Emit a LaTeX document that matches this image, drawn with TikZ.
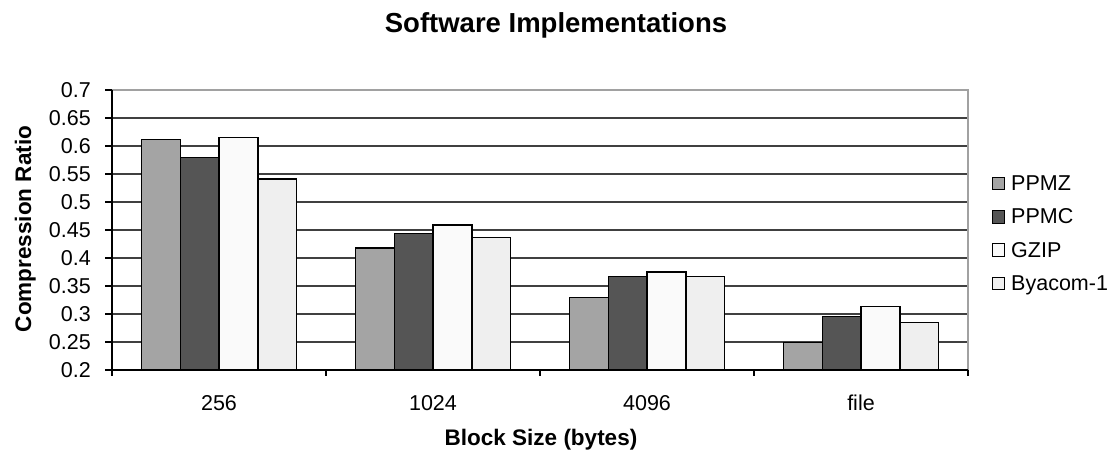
\documentclass[tikz,border=0pt]{standalone}
\usepackage{fontspec}
\setmainfont{Liberation Sans}
\begin{document}
\begin{tikzpicture}[x=1pt,y=-1pt,
  ticklabel/.style={inner sep=0pt,font=\fontsize{21.5}{25}\selectfont},
  axistitle/.style={inner sep=0pt,font=\fontsize{22.5}{27}\selectfont\bfseries},
  charttitle/.style={inner sep=0pt,font=\fontsize{27.5}{32}\selectfont\bfseries},
  grid/.style={draw=black!75,line width=1.4pt},
  frame/.style={draw=black!37,line width=1.4pt},
  axisline/.style={draw=black,line width=1.2pt},
  bar/.style={draw=black,line width=1.2pt},
  swatch/.style={draw=black,line width=1pt,minimum width=12.5pt,minimum height=12.5pt,inner sep=0pt},
]
\definecolor{cppmz}{HTML}{A4A4A4}
\definecolor{cppmc}{HTML}{555555}
\definecolor{cgzip}{HTML}{FAFAFA}
\definecolor{cbyacom}{HTML}{EFEFEF}
\useasboundingbox[fill=white] (0,0) rectangle (1117,455);

% plot area: x from 112 to 968, value 0.2 at y=370 and 0.7 at y=90
\pgfmathsetmacro{\xl}{112}
\pgfmathsetmacro{\xr}{968}

% horizontal gridlines
\foreach \k in {1,...,9}{
  \draw[grid] (\xl,{370-28*\k}) -- (\xr,{370-28*\k});
}
% plot area frame (top and right)
\draw[frame] (\xl,90) -- (\xr,90) -- (\xr,370);

% bars: four categories, four series
\foreach \c/\va/\vb/\vc/\vd in {0/0.612/0.579/0.615/0.541, 1/0.418/0.444/0.459/0.436,
                                2/0.329/0.367/0.375/0.367, 3/0.249/0.296/0.313/0.285}{
  \pgfmathsetmacro{\gx}{\xl+214*\c+29.2}
  \path[bar,fill=cppmz]   (\gx,370) rectangle ({\gx+38.9},{370-(\va-0.2)*560});
  \path[bar,fill=cppmc]   ({\gx+38.9},370) rectangle ({\gx+77.8},{370-(\vb-0.2)*560});
  \path[bar,fill=cgzip]   ({\gx+77.8},370) rectangle ({\gx+116.7},{370-(\vc-0.2)*560});
  \path[bar,fill=cbyacom] ({\gx+116.7},370) rectangle ({\gx+155.6},{370-(\vd-0.2)*560});
}

% axes and ticks
\draw[axisline] (\xl,90) -- (\xl,370) -- (\xr,370);
\foreach \k in {0,...,10}{
  \draw[axisline] (105,{370-28*\k}) -- (\xl,{370-28*\k});
}
\foreach \c in {0,...,4}{
  \draw[axisline] ({\xl+214*\c},370) -- ({\xl+214*\c},376);
}

% value labels
\foreach \k/\t in {0/0.2,1/0.25,2/0.3,3/0.35,4/0.4,5/0.45,6/0.5,7/0.55,8/0.6,9/0.65,10/0.7}{
  \node[ticklabel,anchor=east] (yl\k) at (91,{370-28*\k}) {\t};
}
% category labels
\foreach \c/\t in {0/256,1/1024,2/4096,3/file}{
  \node[ticklabel,anchor=base] (xl\c) at ({\xl+107+214*\c},410) {\t};
}

% titles
\node[charttitle,anchor=base] (title) at (556,32) {Software Implementations};
\node[axistitle,anchor=base] (xtitle) at (541,445) {Block Size (bytes)};
\node[axistitle,anchor=base,rotate=90] (ytitle) at (31,229) {Compression Ratio};

% legend
\foreach \i/\col/\t in {0/cppmz/PPMZ,1/cppmc/PPMC,2/cgzip/GZIP,3/cbyacom/Byacom-1}{
  \node[swatch,fill=\col] (sw\i) at (998.5,{183.5+33.3*\i}) {};
  \node[ticklabel,anchor=base west] (lg\i) at (1011,{190.5+33.3*\i}) {\t};
}
\end{tikzpicture}
\end{document}
